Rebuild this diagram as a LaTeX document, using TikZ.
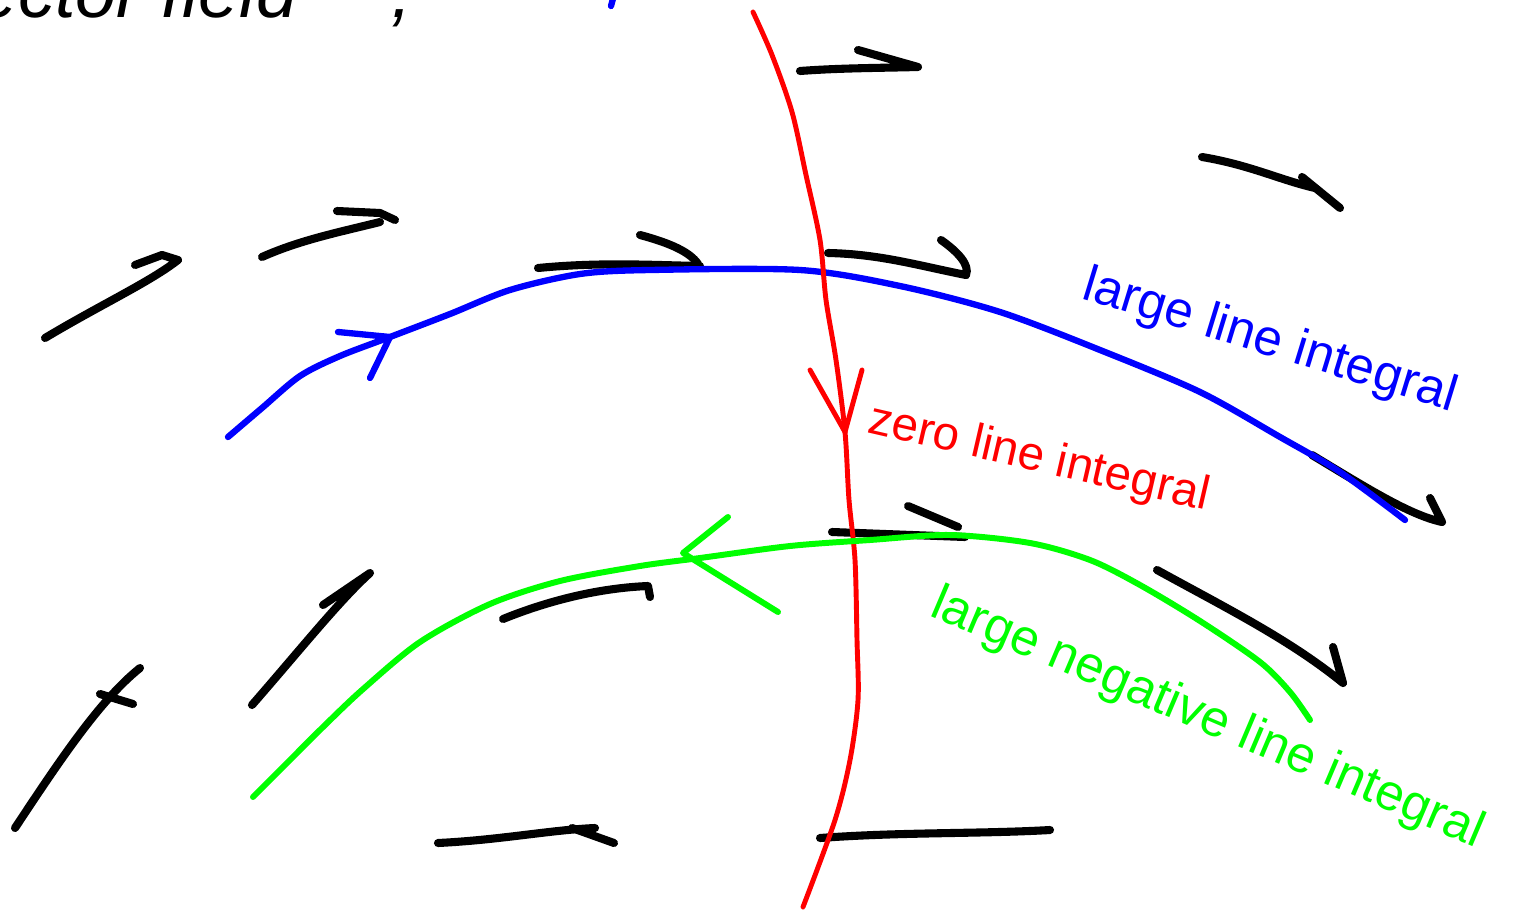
\documentclass[tikz,border=0pt]{standalone}
\usepackage{fontspec}
\setmainfont{Liberation Sans}
\usepackage{tikz}
\definecolor{inkblue}{RGB}{0,0,255}
\definecolor{inkred}{RGB}{255,0,0}
\definecolor{inkgreen}{RGB}{0,255,0}
\tikzset{
  fieldarrow/.style={draw=black, line width=4.6pt, line cap=round, line join=round},
  bluepath/.style={draw=inkblue, line width=3.6pt, line cap=round, line join=round},
  redpath/.style={draw=inkred, line width=2.8pt, line cap=round, line join=round},
  greenpath/.style={draw=inkgreen, line width=3.4pt, line cap=round, line join=round},
  curvelabel/.style={anchor=base west, inner sep=0pt},
}

\begin{document}
\begin{tikzpicture}[x=0.02cm, y=-0.02cm]
  \useasboundingbox (0,0) rectangle (1523,912);
  \fill[white] (0,0) rectangle (1523,912);

  % text cut off at the top edge
  \begin{scope}
    \clip (0,0) rectangle (1523,912);
    \node (title) [anchor=base west, inner sep=0pt, font=\itshape\fontsize{42}{48}\selectfont] at (-60,18) {vector field \quad,};
    \draw[bluepath] (614,-5) -- (611,6);
  \end{scope}

  % vector field
  \draw[fieldarrow] (45,338) .. controls (100,305) and (150,282) .. (178,260) -- (162,255) -- (135,265);
  \draw[fieldarrow] (262,257) .. controls (300,240) and (340,232) .. (380,222);
  \draw[fieldarrow] (337,211) -- (380,213) -- (395,220);
  \draw[fieldarrow] (538,268) .. controls (600,262) and (650,265) .. (700,266);
  \draw[fieldarrow] (640,235) .. controls (670,243) and (690,252) .. (698,264);
  \draw[fieldarrow] (800,71) .. controls (840,68) and (880,68) .. (918,67) -- (858,50);
  \draw[fieldarrow] (828,253) .. controls (880,254) and (920,266) .. (966,275);
  \draw[fieldarrow] (941,240) .. controls (958,252) and (970,265) .. (966,275);
  \draw[fieldarrow] (1202,157) .. controls (1250,165) and (1280,180) .. (1315,188);
  \draw[fieldarrow] (1302,177) -- (1340,208);
  \draw[fieldarrow] (1312,455) .. controls (1370,490) and (1410,515) .. (1442,522) -- (1430,498);
  \draw[fieldarrow] (832,532) -- (965,537);
  \draw[fieldarrow] (908,506) -- (958,527);
  \draw[fieldarrow] (1157,570) .. controls (1230,610) and (1290,640) .. (1343,683) -- (1333,647);
  \draw[fieldarrow] (503,619) .. controls (550,600) and (600,588) .. (648,586) -- (650,597);
  \draw[fieldarrow] (252,705) .. controls (300,650) and (340,600) .. (370,573) -- (323,605);
  \draw[fieldarrow] (15,828) .. controls (60,760) and (100,700) .. (140,668);
  \draw[fieldarrow] (100,694) -- (133,704);
  \draw[fieldarrow] (438,843) .. controls (500,840) and (550,830) .. (595,828);
  \draw[fieldarrow] (572,828) -- (614,843);
  \draw[fieldarrow] (820,838) .. controls (900,832) and (980,834) .. (1050,830);

  % blue path
  \draw[bluepath] plot[smooth] coordinates {(228,437) (262,408) (300,376) (340,356) (390,337) (450,314) (510,290) (580,274) (650,270) (800,270) (900,286) (1000,312) (1100,350) (1200,392) (1280,437) (1340,472) (1405,520)};
  \draw[bluepath] (338,332) -- (390,337) -- (370,378);
  \node (bluelabel) [curvelabel, text=inkblue, rotate=-17, font=\fontsize{29}{34}\selectfont] at (1080,298) {large line integral};

  % red path
  \draw[redpath] plot[smooth] coordinates {(753,12) (772,55) (792,112) (806,175) (820,240) (826,300) (836,360) (845,432) (849,500) (855,560) (857,640) (858,700) (850,760) (835,820) (803,907)};
  \draw[redpath] (810,370) -- (845,432) -- (862,370);
  \node (redlabel) [curvelabel, text=inkred, rotate=-13, font=\fontsize{27}{32}\selectfont] at (866,432) {zero line integral};

  % green path
  \draw[greenpath] plot[smooth] coordinates {(253,797) (290,760) (322,728) (362,690) (420,642) (490,604) (560,581) (640,566) (700,558) (790,546) (870,540) (950,535) (1030,543) (1090,560) (1140,585) (1200,621) (1260,662) (1290,692) (1310,720)};
  \draw[greenpath] (728,517) -- (683,553) -- (778,612);
  \node (greenlabel) [curvelabel, text=inkgreen, rotate=-23, font=\fontsize{29}{34}\selectfont] at (928,615) {large negative line integral};
\end{tikzpicture}
\end{document}
